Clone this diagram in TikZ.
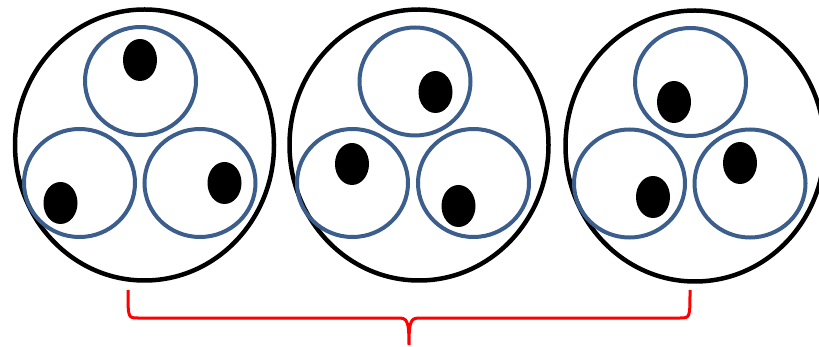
\documentclass[tikz,border=0pt]{standalone}
\usetikzlibrary{shapes.geometric}
\definecolor{cellblue}{HTML}{3B5E8C}

\begin{document}
\begin{tikzpicture}[x=1pt,y=-1pt,
 outer/.style={draw,ellipse,line width=4.5pt,minimum width=259pt,minimum height=271pt,inner sep=0pt},
 cell/.style={draw=cellblue,ellipse,line width=4pt,minimum width=111pt,minimum height=108pt,inner sep=0pt},
 dot/.style={fill=black,ellipse,minimum width=34pt,minimum height=42pt,inner sep=0pt},
 brace/.style={draw=red,line width=3pt}]
\useasboundingbox (0,0) rectangle (819,347);
% first group
\node[outer] (g1) at (144.5,145) {};
\node[cell] (g1t) at (140.5,81) {};
\node[cell] (g1l) at (79.5,183) {};
\node[cell] (g1r) at (200,183) {};
\node[dot] (d1t) at (140,60) {};
\node[dot] (d1l) at (60.5,203) {};
\node[dot] (d1r) at (224.5,183) {};
% second group
\node[outer] (g2) at (419,145) {};
\node[cell] (g2t) at (415,81.5) {};
\node[cell] (g2l) at (352.5,183) {};
\node[cell] (g2r) at (473.5,183) {};
\node[dot] (d2t) at (435.5,92) {};
\node[dot] (d2l) at (352,164) {};
\node[dot] (d2r) at (458.5,206) {};
% third group
\node[outer] (g3) at (695,146) {};
\node[cell] (g3t) at (690.5,82) {};
\node[cell] (g3l) at (629.5,183.5) {};
\node[cell] (g3r) at (750,183.5) {};
\node[dot] (d3t) at (674,102) {};
\node[dot] (d3l) at (653,197) {};
\node[dot] (d3r) at (740,163) {};
% brace under the groups
\coordinate (bl) at (128,290);
\coordinate (br) at (690,290);
\coordinate (tip) at (409,345);
\draw[brace] (bl) .. controls (128,318) and (128,318) .. (138,318)
 -- (398,318) .. controls (407,318) and (409,320) .. (tip)
 .. controls (409,320) and (411,318) .. (420,318)
 -- (680,318) .. controls (690,318) and (690,318) .. (br);
\end{tikzpicture}
\end{document}
